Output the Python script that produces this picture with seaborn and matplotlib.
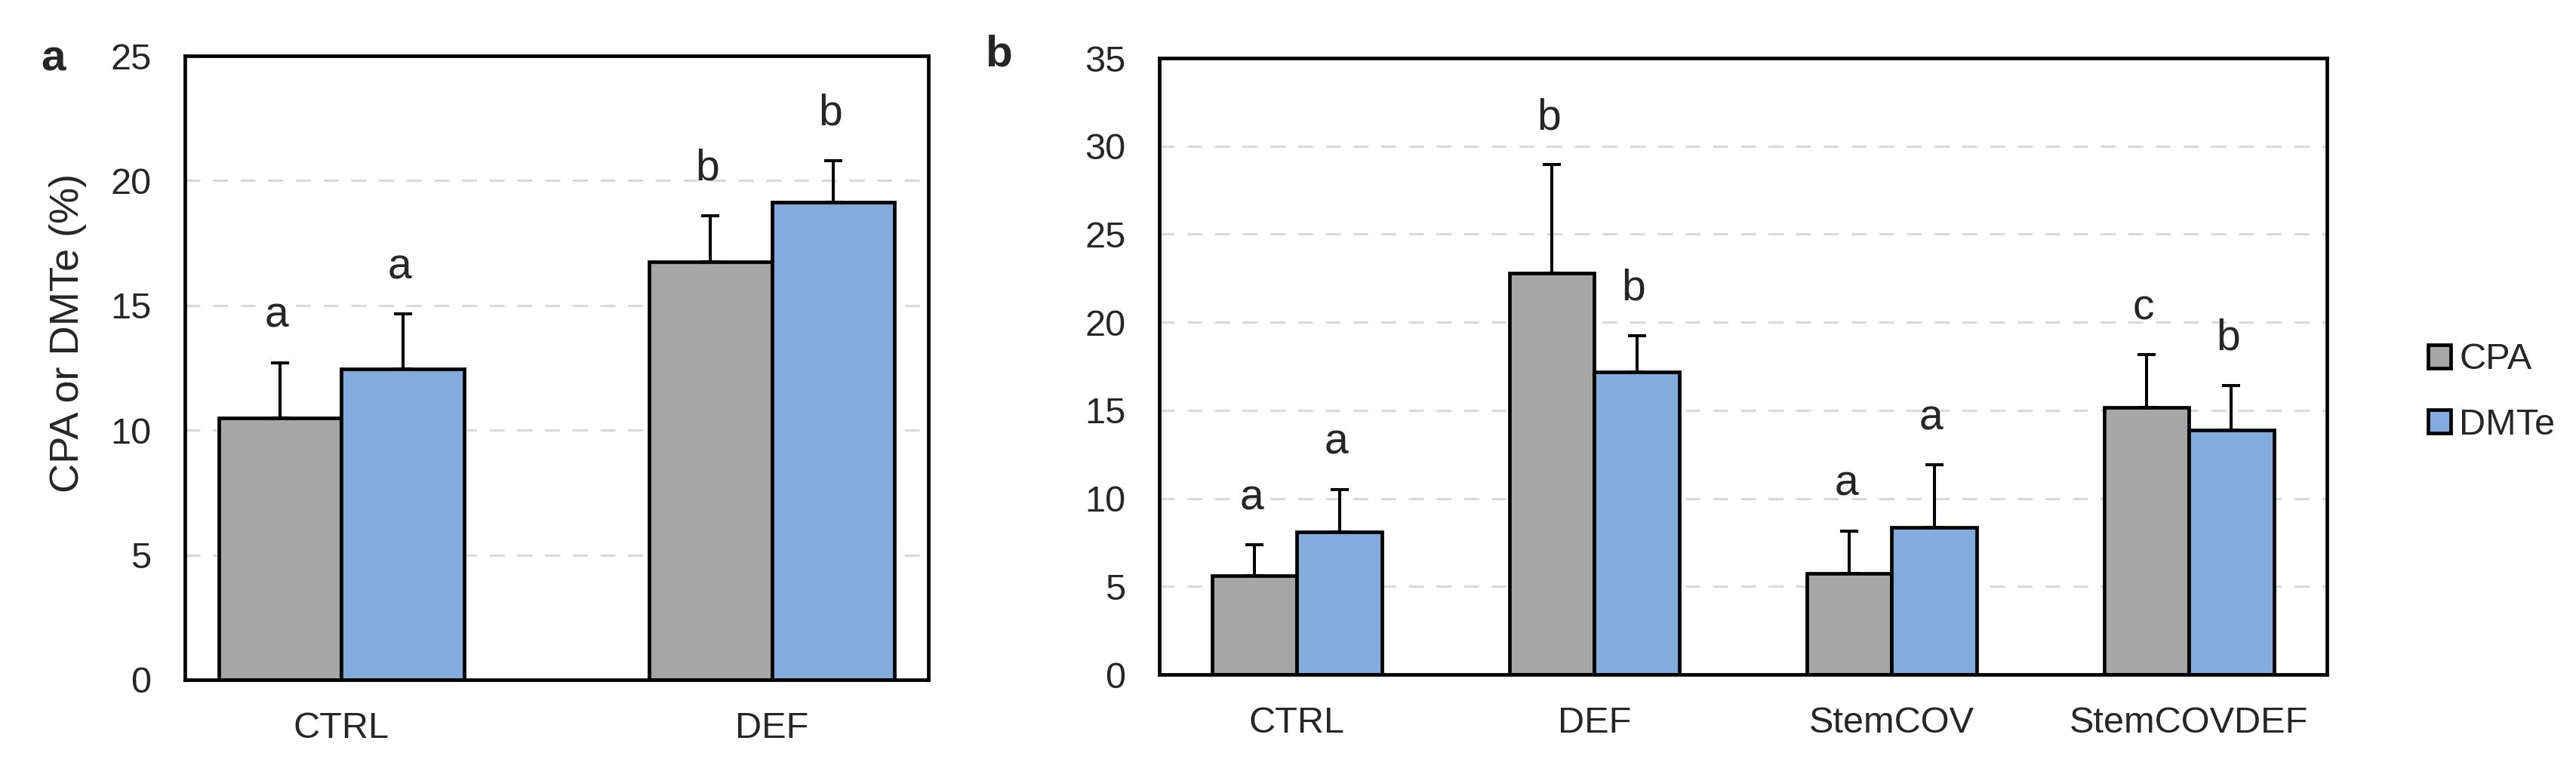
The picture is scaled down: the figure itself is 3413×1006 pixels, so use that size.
import numpy as np
import pandas as pd
import matplotlib
matplotlib.use("Agg")
import matplotlib.pyplot as plt
import seaborn as sns

# panel a
groups_a = ["CTRL", "DEF"]
cpa_a = [10.5, 16.75]
cpa_a_sd = [2.2, 1.85]
dmte_a = [12.45, 19.15]
dmte_a_sd = [2.2, 1.65]
cpa_a_letters = ["a", "b"]
dmte_a_letters = ["a", "b"]

# panel b
groups_b = ["CTRL", "DEF", "StemCOV", "StemCOVDEF"]
cpa_b = [5.6, 22.8, 5.75, 15.15]
cpa_b_sd = [1.75, 6.15, 2.4, 3.0]
dmte_b = [8.1, 17.2, 8.35, 13.9]
dmte_b_sd = [2.4, 2.05, 3.55, 2.5]
cpa_b_letters = ["a", "b", "a", "c"]
dmte_b_letters = ["a", "b", "a", "b"]

series = ["CPA", "DMTe"]
colors = {"CPA": "#a6a6a6", "DMTe": "#83abde"}

sns.set_style("white")
plt.rcParams["font.family"] = ["Liberation Sans", "DejaVu Sans"]


def make_frame(groups, cpa, dmte):
    return pd.DataFrame({
        "group": groups + groups,
        "series": ["CPA"] * len(groups) + ["DMTe"] * len(groups),
        "value": cpa + dmte,
    })


def draw_panel(ax, groups, cpa, cpa_sd, dmte, dmte_sd, cpa_let, dmte_let, ymax):
    df = make_frame(groups, cpa, dmte)
    sns.barplot(data=df, x="group", y="value", hue="series", order=groups,
                hue_order=series, palette=colors, saturation=1, width=0.57,
                gap=0, errorbar=None, edgecolor="black", linewidth=3.4,
                legend=True, ax=ax, zorder=3)

    sds = [cpa_sd, dmte_sd]
    lets = [cpa_let, dmte_let]
    for container, sd_list, let_list in zip(ax.containers, sds, lets):
        for bar, sd, let in zip(container, sd_list, let_list):
            x = bar.get_x() + bar.get_width() / 2
            h = bar.get_height()
            ax.errorbar(x, h, yerr=[[0], [sd]], fmt="none", ecolor="black",
                        elinewidth=2.9, capsize=8.3, capthick=2.9, zorder=2)
            ax.annotate(let, (x, h + sd), xytext=(-3, 34),
                        textcoords="offset points", ha="center",
                        va="baseline", fontsize=41)

    ax.set_ylim(0, ymax)
    ax.set_yticks(np.arange(0, ymax + 1, 5))
    for yv in np.arange(5, ymax, 5):
        ax.axhline(yv, color="#d9d9d9", lw=2.2, ls=(0, (6.5, 5.5)), zorder=1)
    ax.set_xlabel("")
    ax.set_ylabel("")
    for sp in ax.spines.values():
        sp.set_visible(True)
        sp.set_color("black")
        sp.set_linewidth(3.4)
        sp.set_zorder(4)
    ax.tick_params(axis="y", direction="in", length=9, width=2.2,
                   color="black", labelsize=35, pad=32, left=True)
    ax.tick_params(axis="x", length=0, labelsize=35, pad=30)


fig = plt.figure(figsize=(34.13, 10.06), dpi=100)
ax_a = fig.add_axes([0.0718, 0.1044, 0.2886, 0.822])
ax_b = fig.add_axes([0.4500, 0.1113, 0.4533, 0.8121])

draw_panel(ax_a, groups_a, cpa_a, cpa_a_sd, dmte_a, dmte_a_sd,
           cpa_a_letters, dmte_a_letters, 25)
draw_panel(ax_b, groups_b, cpa_b, cpa_b_sd, dmte_b, dmte_b_sd,
           cpa_b_letters, dmte_b_letters, 35)

ax_a.set_ylabel("CPA or DMTe (%)", fontsize=39, va="center")
ax_a.yaxis.set_label_coords(-0.157, 0.556)

handles, labels = ax_b.get_legend_handles_labels()
ax_a.get_legend().remove()
ax_b.get_legend().remove()
fig.legend(handles, labels, loc="center left",
           bbox_to_anchor=(0.9426, 0.483), frameon=False, fontsize=35,
           handlelength=0.62, handleheight=0.62, handletextpad=0.23,
           labelspacing=0.85, borderpad=0, borderaxespad=0)

fig.text(70 / 3413, 1 - 93 / 1006, "a", fontsize=42, fontweight="bold",
         ha="center", va="baseline")
fig.text(1323 / 3413, 1 - 88 / 1006, "b", fontsize=42, fontweight="bold",
         ha="center", va="baseline")

fig.savefig("out.png", dpi=100)
